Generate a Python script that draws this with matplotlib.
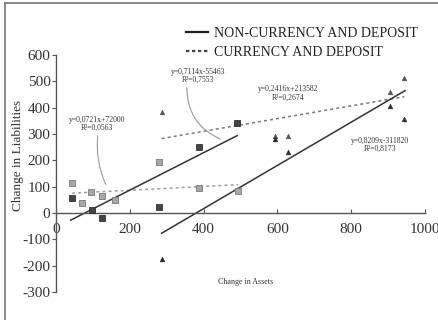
import matplotlib
matplotlib.use("Agg")
import matplotlib.pyplot as plt
from matplotlib.lines import Line2D
import numpy as np

plt.rcParams['font.family'] = ['Liberation Serif', 'DejaVu Serif']
plt.rcParams['axes.unicode_minus'] = False

# Group A (squares)
a_x_non = [43, 97, 124, 280, 388, 491]
a_y_non = [58, 11, -18, 24, 252, 343]
a_x_cur = [43, 70, 95, 124, 160, 280, 388, 494]
a_y_cur = [115, 39, 79, 65, 49, 193, 94, 85]
# Group B (triangles)
b_x_non = [286, 593, 630, 906, 944]
b_y_non = [-176, 280, 233, 405, 356]
b_x_cur = [286, 593, 630, 906, 944]
b_y_cur = [385, 292, 292, 461, 511]

# Regression lines (in thousands): slope, intercept, x range
fit_slopes = [0.0721, 0.7114, 0.2416, 0.8209]
fit_intercepts = [72.000, -55.463, 213.582, -311.820]
fit_ranges = [(43, 494), (40, 491), (286, 944), (286, 946)]
fit_labels = ["y=0,0721x+72000\nR²=0,0563", "y=0,7114x-55463\nR²=0,7553",
              "y=0,2416x+213582\nR²=0,2674", "y=0,8209x-311820\nR²=0,8173"]
fit_label_pos = [(111, 338), (385, 520), (630, 454), (878, 258)]

x_ticks = [0, 200, 400, 600, 800, 1000]
y_ticks = [-300, -200, -100, 0, 100, 200, 300, 400, 500, 600]
legend_labels = ["NON-CURRENCY AND DEPOSIT", "CURRENCY AND DEPOSIT"]

W, H = 439, 320
fig = plt.figure(figsize=(W/100, H/100), dpi=100)
ax = fig.add_axes([56/W, 1-292/H, (425-56)/W, (292-55)/H])
ax.set_xlim(0, 1000)
ax.set_ylim(-300, 600)

styles = ['dotted', 'solid', 'dotted', 'solid']
colors = ['#a0a0a0', '#333333', '#7a7a7a', '#333333']
for s, b, (x0, x1), ls, c in zip(fit_slopes, fit_intercepts, fit_ranges, styles, colors):
    xs = np.array([x0, x1])
    ax.plot(xs, s*xs + b, color=c, lw=1.1,
            linestyle=(0, (2, 2)) if ls == 'dotted' else '-', zorder=2)

ax.plot(a_x_cur, a_y_cur, 's', ms=3.8, mfc='#a8a8a8', mec='#7a7a7a', mew=0.6, zorder=3)
ax.plot(a_x_non, a_y_non, 's', ms=3.8, mfc='#444444', mec='#333333', mew=0.6, zorder=3)
ax.plot(b_x_cur, b_y_cur, '^', ms=3.4, mfc='#555555', mec='#555555', mew=0.4, zorder=3)
ax.plot(b_x_non, b_y_non, '^', ms=3.4, mfc='#2a2a2a', mec='#2a2a2a', mew=0.4, zorder=3)

for lab, (tx, ty) in zip(fit_labels, fit_label_pos):
    ax.text(tx, ty, lab, fontsize=5.5, ha='center', va='center', color='#333333',
            linespacing=1.0)

# callout curves
ax.annotate('', xy=(138, 99), xytext=(114, 304),
            arrowprops=dict(arrowstyle='-', connectionstyle='arc3,rad=0.15',
                            color='#999999', lw=0.8))
ax.annotate('', xy=(452, 277), xytext=(355, 486),
            arrowprops=dict(arrowstyle='-', connectionstyle='arc3,rad=0.35',
                            color='#999999', lw=0.8))

for sp in ['top', 'right']:
    ax.spines[sp].set_visible(False)
ax.spines['bottom'].set_position(('data', 0))
for sp in ['left', 'bottom']:
    ax.spines[sp].set_color('#555555')
    ax.spines[sp].set_linewidth(1.0)
ax.set_xticks(x_ticks)
ax.set_yticks(y_ticks)
ax.set_xticklabels([str(v) for v in x_ticks])
ax.set_yticklabels([str(v) for v in y_ticks])
ax.tick_params(axis='x', direction='in', length=3, color='#555555', labelsize=11,
               labelcolor='#333333', pad=7)
ax.tick_params(axis='y', direction='out', length=3, color='#555555', labelsize=11,
               labelcolor='#333333', pad=1)

fig.text(246/W, 1-282/H, 'Change in Assets', ha='center', va='center',
         fontsize=5.8, color='#333333')
fig.text(18/W, 1-155/H, 'Change in Liabilities', ha='center', va='center',
         rotation=90, fontsize=9.5, color='#333333')

handles = [Line2D([], [], color='#222222', lw=1.6),
           Line2D([], [], color='#444444', lw=1.6, linestyle=(0, (1.5, 1.2)))]
leg = ax.legend(handles, legend_labels, loc='upper left',
                bbox_to_anchor=(186/W, 1-27/H), bbox_transform=fig.transFigure,
                frameon=False, borderaxespad=0, borderpad=0, fontsize=10,
                handlelength=1.6, handletextpad=0.4, labelspacing=0.45)
for t in leg.get_texts():
    t.set_color('#222222')

# outer frame (left and top)
fig.add_artist(Line2D([5/W, 5/W], [0, 1-3/H], transform=fig.transFigure,
                      color='#808080', lw=1.3))
fig.add_artist(Line2D([5/W, 1], [1-3/H, 1-3/H], transform=fig.transFigure,
                      color='#808080', lw=1.3))

fig.savefig('out.png', dpi=100)
